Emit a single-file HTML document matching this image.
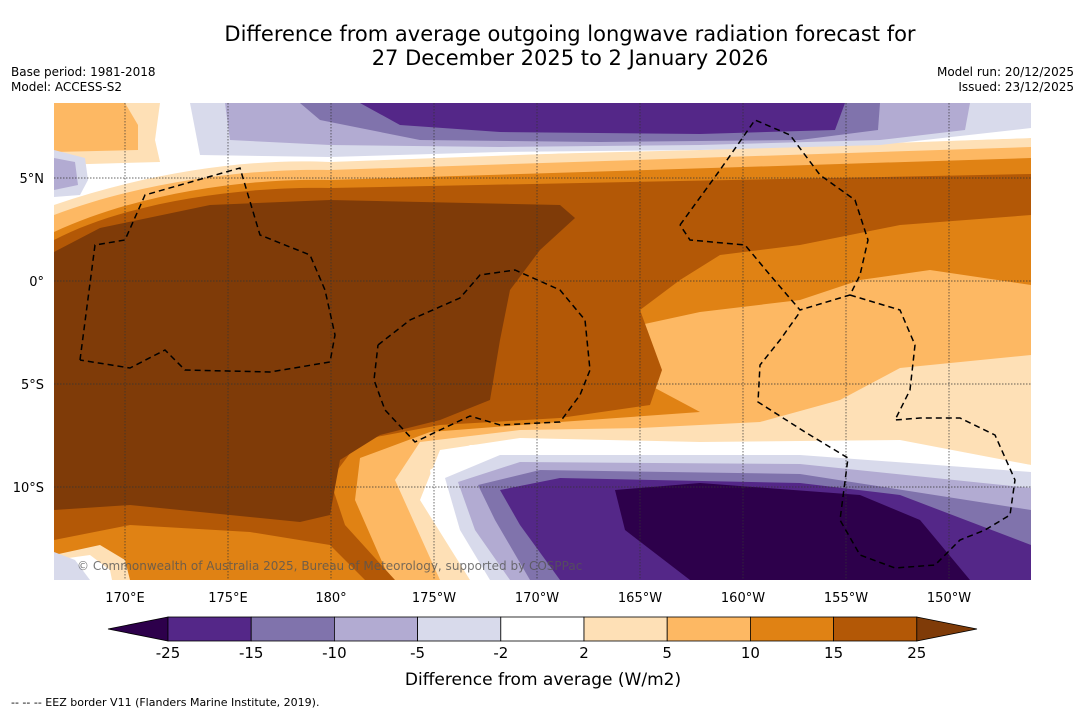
<!DOCTYPE html>
<html><head><meta charset="utf-8"><style>
body{margin:0;background:#fff;font-family:"Liberation Sans","DejaVu Sans",sans-serif;}
#wrap{position:relative;width:1085px;height:713px;overflow:hidden;background:#fff}
.t{position:absolute;white-space:nowrap;color:#000}
</style></head><body>
<div id="wrap">
<div class="t" style="left:0;width:1140px;top:22px;text-align:center;font-size:21px;line-height:24px;font-family:'DejaVu Sans',sans-serif">Difference from average outgoing longwave radiation forecast for<br>27 December 2025 to 2 January 2026</div>
<div class="t" style="left:11px;top:65px;font-size:12px;line-height:15px;font-family:'DejaVu Sans',sans-serif">Base period: 1981-2018<br>Model: ACCESS-S2</div>
<div class="t" style="right:11px;top:65px;font-size:12px;line-height:15px;text-align:right;font-family:'DejaVu Sans',sans-serif">Model run: 20/12/2025<br>Issued: 23/12/2025</div>
<svg id="svg" width="1085" height="713" style="position:absolute;left:0;top:0" font-family="DejaVu Sans, sans-serif">
<defs><clipPath id="mc"><rect x="54" y="103" width="977" height="477"/></clipPath></defs>
<g clip-path="url(#mc)">
<rect x="54" y="103" width="977" height="477" fill="#fff"/>
<path fill="#fee0b6" d="M54,205 C150,172 250,158 330,162 L600,152 L1031,138 L1031,465 L900,440 L700,442 L520,438 L440,450 L420,500 L470,580 L54,580 Z"/>
<path fill="#fdb863" d="M54,215 C140,182 250,168 330,170 L1031,147 L1031,355 L900,368 L840,400 L760,422 L640,428 L520,430 L420,442 L395,480 L440,580 L54,580 Z"/>
<path fill="#e08214" d="M54,232 C140,192 250,178 330,180 L1031,158 L1031,285 L930,270 L860,280 L800,300 L700,312 L640,325 L640,380 L700,412 L560,422 L430,432 L360,458 L355,500 L390,580 L54,580 Z"/>
<path fill="#b35806" d="M54,240 C130,200 250,186 330,188 L1031,174 L1031,215 L900,225 L800,245 L720,255 L680,280 L640,310 L662,370 L650,405 L560,418 L440,425 L360,440 L330,480 L345,525 L395,580 L365,580 L330,545 L250,532 L130,525 L54,540 Z"/>
<path fill="#7f3b08" d="M54,252 L100,228 L210,205 L330,200 L560,205 L575,218 L540,250 L510,290 L500,340 L490,400 L440,420 L380,435 L340,460 L330,515 L300,522 L230,515 L130,505 L54,510 Z"/>
<path fill="#fee0b6" d="M54,103 L160,103 L155,140 L160,162 L54,165 Z"/>
<path fill="#fdb863" d="M54,103 L125,103 L138,125 L138,150 L54,152 Z"/>
<path fill="#fff" d="M160,103 L1031,103 L1031,138 L700,150 L500,155 L330,160 L200,160 L160,165 Z"/>
<path fill="#d8daeb" d="M190,103 L1031,103 L1031,128 L880,145 L700,150 L500,152 L330,157 L200,155 Z"/>
<path fill="#b2abd2" d="M225,103 L970,103 L965,130 L880,140 L700,145 L500,147 L330,145 L230,140 Z"/>
<path fill="#8073ac" d="M300,103 L880,103 L878,130 L800,140 L600,142 L420,140 L320,120 Z"/>
<path fill="#542788" d="M360,103 L845,103 L835,130 L700,134 L500,132 L400,125 Z"/>
<path fill="#d8daeb" d="M54,150 L85,158 L88,180 L80,195 L54,197 Z"/>
<path fill="#b2abd2" d="M54,158 L75,162 L78,185 L54,190 Z"/>
<path fill="#fff" d="M430,470 L470,445 L600,442 L800,442 L960,455 L1031,465 L1031,580 L480,580 L440,530 Z"/>
<path fill="#d8daeb" d="M445,478 L500,455 L800,455 L1031,472 L1031,580 L490,580 L460,530 Z"/>
<path fill="#b2abd2" d="M458,482 L520,462 L800,464 L1031,488 L1031,580 L510,580 L475,530 Z"/>
<path fill="#8073ac" d="M478,485 L540,470 L800,474 L1031,510 L1031,580 L530,580 L495,520 Z"/>
<path fill="#542788" d="M500,490 L560,478 L800,483 L900,495 L1031,545 L1031,580 L560,580 L520,525 Z"/>
<path fill="#2d004b" d="M615,490 L700,483 L860,495 L920,520 L970,580 L690,580 L625,530 Z"/>
<path fill="#fee0b6" d="M54,555 L100,545 L125,560 L130,580 L54,580 Z"/>
<path fill="#fff" d="M54,560 L90,555 L110,570 L112,580 L54,580 Z"/>
<path fill="#d8daeb" d="M54,552 L75,560 L90,580 L54,580 Z"/>
<g id="grid" stroke="#333" stroke-width="0.7" stroke-dasharray="1.5,1.5"></g>
<g fill="none" stroke="#000" stroke-width="1.5" stroke-dasharray="6,4">
<path d="M80,360 L95,245 L125,240 L145,195 L240,168 L260,235 L310,255 L325,290 L335,335 L330,362 L270,372 L185,370 L165,350 L130,368 L80,360"/>
<path d="M378,345 L410,320 L460,298 L480,275 L515,270 L560,290 L585,320 L590,370 L580,395 L560,422 L500,425 L470,416 L440,430 L415,442 L385,410 L374,380 L378,345"/>
<path d="M680,225 L720,170 L755,120 L790,135 L820,175 L855,200 L868,240 L860,275 L850,295 L800,310 L770,275 L745,245 L690,240 L680,225"/>
<path d="M850,295 L900,310 L915,345 L910,390 L895,420 L920,418 L960,418 L995,435 L1015,480 L1010,515 L985,530 L960,540 L935,565 L895,568 L860,555 L840,520 L848,458 L805,432 L758,402 L760,365 L780,340 L800,312"/>
</g>
<text x="77" y="570" font-size="12" fill="#555" fill-opacity="0.8">© Commonwealth of Australia 2025, Bureau of Meteorology, supported by COSPPac</text>
</g>
<g id="axes" font-size="13" fill="#000"></g>
<g id="cbar"></g>
<text x="543" y="685" font-size="17" text-anchor="middle">Difference from average (W/m2)</text>
<text x="11" y="706" font-size="11">--  --  -- EEZ border V11 (Flanders Marine Institute, 2019).</text>
</svg>
</div>
<script>
const lonTicks=["170°E","175°E","180°","175°W","170°W","165°W","160°W","155°W","150°W"];
const lonVals=[170,175,180,185,190,195,200,205,210];
const latTicks=["5°N","0°","5°S","10°S"];
const latVals=[5,0,-5,-10];
const levels=[-25,-15,-10,-5,-2,2,5,10,15,25];
const colors=["#542788","#8073ac","#b2abd2","#d8daeb","#ffffff","#fee0b6","#fdb863","#e08214","#b35806"];
const extLow="#2d004b", extHigh="#7f3b08";
const NS="http://www.w3.org/2000/svg";
const xL=v=>125+(v-170)*20.6, yL=v=>281-v*20.6;
const grid=document.getElementById('grid'), axes=document.getElementById('axes'), cb=document.getElementById('cbar');
function mk(tag,attrs,parent){const e=document.createElementNS(NS,tag);for(const k in attrs)e.setAttribute(k,attrs[k]);parent.appendChild(e);return e;}
lonVals.forEach((v,i)=>{
 const l=mk('line',{x1:xL(v),x2:xL(v),y1:103,y2:580},grid);
 
 
 const t=mk('text',{x:xL(v),y:602,'text-anchor':'middle'},axes);t.textContent=lonTicks[i];
 
 
});
latVals.forEach((v,i)=>{
 const l=mk('line',{x1:54,x2:1031,y1:yL(v),y2:yL(v)},grid);
 
 
 const t=mk('text',{x:44,y:yL(v)+5,'text-anchor':'end'},axes);t.textContent=latTicks[i];
 
 
});
const x0=168,w=83.2,y0=617,h=24;
const tl=mk('path',{d:`M${x0},${y0} L108,${y0+h/2} L${x0},${y0+h} Z`,fill:extLow,stroke:'#000','stroke-width':0.8},cb);


colors.forEach((c,i)=>{
 const r=mk('rect',{x:x0+i*w,y:y0,width:w,height:h,fill:c,stroke:'#000','stroke-width':0.8},cb);
 
 
});
const xe=x0+colors.length*w;
const tr=mk('path',{d:`M${xe},${y0} L977,${y0+h/2} L${xe},${y0+h} Z`,fill:extHigh,stroke:'#000','stroke-width':0.8},cb);


levels.forEach((v,i)=>{
 const t=mk('text',{x:x0+i*w,y:658,'text-anchor':'middle','font-size':15},cb);t.textContent=v;
 
 
});
</script>
</body></html>
